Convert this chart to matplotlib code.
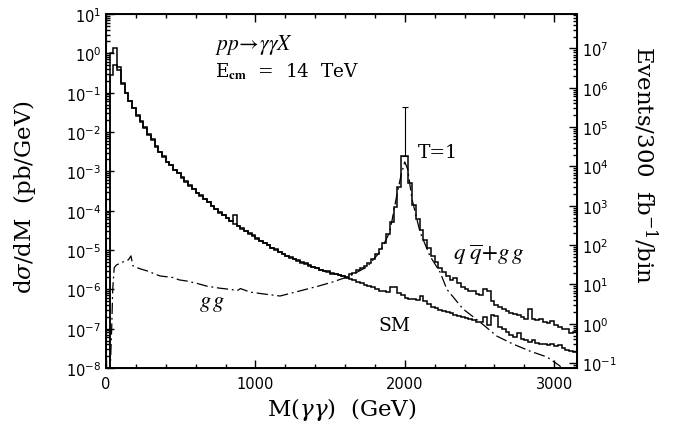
import numpy as np
import matplotlib
matplotlib.use("Agg")
import matplotlib.pyplot as plt
from matplotlib.ticker import LogLocator, FixedLocator, NullFormatter

# ---------------- data ----------------
bin_edges = np.arange(0, 3150 + 25, 25)          # 25 GeV bins, 0 .. 3150 GeV

# log10 of d(sigma)/dM [pb/GeV] per bin, Standard Model
sm_log10 = [
    -12, -0.55, -0.30, -0.42, -0.78, -1.00, -1.20, -1.40, -1.58, -1.73,
    -1.90, -2.05, -2.20, -2.37, -2.50, -2.64, -2.75, -2.85, -2.96, -3.05,
    -3.15, -3.26, -3.36, -3.45, -3.55, -3.62, -3.70, -3.79, -3.87, -3.97,
    -4.04, -4.11, -4.18, -4.26, -4.33, -4.39, -4.45, -4.52, -4.58, -4.64,
    -4.70, -4.77, -4.82, -4.88, -4.95, -4.99, -5.04, -5.10, -5.15, -5.19,
    -5.23, -5.27, -5.31, -5.35, -5.39, -5.43, -5.46, -5.50, -5.53, -5.55,
    -5.58, -5.60, -5.63, -5.66, -5.70, -5.74, -5.77, -5.81, -5.85, -5.89,
    -5.92, -5.95, -6.00, -6.03, -6.05, -6.07, -5.94, -5.93, -6.10, -6.15,
    -6.22, -6.25, -6.24, -6.27, -6.18, -6.30, -6.38, -6.44, -6.47, -6.52,
    -6.55, -6.58, -6.60, -6.64, -6.68, -6.71, -6.72, -6.76, -6.78, -6.82,
    -6.84, -6.70, -6.90, -6.65, -6.68, -6.95, -7.00, -7.08, -7.15, -7.20,
    -7.10, -7.25, -7.30, -7.35, -7.30, -7.36, -7.40, -7.38, -7.42, -7.38,
    -7.45, -7.42, -7.50, -7.55, -7.58, -7.60,
]

# log10 of d(sigma)/dM with T=1 (q qbar + g g)
tot_log10 = [
    -12, 0.00, 0.14, -0.36, -0.75, -1.02, -1.22, -1.38, -1.60, -1.75,
    -1.88, -2.07, -2.18, -2.36, -2.52, -2.62, -2.76, -2.84, -2.97, -3.04,
    -3.16, -3.25, -3.37, -3.44, -3.56, -3.61, -3.71, -3.78, -3.88, -3.96,
    -4.05, -4.10, -4.19, -4.25, -4.12, -4.38, -4.46, -4.51, -4.59, -4.63,
    -4.71, -4.76, -4.83, -4.87, -4.96, -4.98, -5.05, -5.09, -5.16, -5.20,
    -5.24, -5.26, -5.32, -5.34, -5.40, -5.44, -5.45, -5.51, -5.54, -5.54,
    -5.60, -5.61, -5.64, -5.66, -5.68, -5.62, -5.58, -5.52, -5.46, -5.40,
    -5.32, -5.22, -5.10, -4.97, -4.82, -4.60, -4.30, -3.90, -3.40, -2.60,
    -2.60, -3.30, -3.85, -4.20, -4.50, -4.75, -4.95, -5.15, -5.30, -5.45,
    -5.55, -5.65, -5.75, -5.70, -5.85, -5.95, -6.00, -6.05, -6.05, -6.12,
    -6.15, -6.00, -6.05, -6.30, -6.40, -6.46, -6.50, -6.55, -6.60, -6.63,
    -6.66, -6.70, -6.75, -6.50, -6.76, -6.78, -6.76, -6.82, -6.85, -6.80,
    -6.90, -6.95, -7.00, -7.02, -7.10, -7.08,
]

# gg curve (dash-dot): mass [GeV] and log10 d(sigma)/dM
gg_mass = [27, 38, 45, 55, 70, 116, 150, 167, 180, 194, 230, 274, 361, 450,
           490, 542, 610, 676, 760, 830, 880, 900, 964, 1060, 1165, 1298,
           1420, 1520, 1633, 1747, 1834, 1900, 1947, 1975, 2000, 2020, 2048,
           2102, 2168, 2236, 2282, 2390, 2503, 2617, 2724, 2838, 2952, 3039,
           3065]
gg_log10 = [-8.2, -7.0, -6.0, -5.45, -5.38, -5.30, -5.25, -5.15, -5.40, -5.43,
            -5.48, -5.53, -5.66, -5.70, -5.76, -5.79, -5.85, -5.92, -5.97, -6.00,
            -6.03, -5.98, -6.07, -6.12, -6.17, -6.04, -5.92, -5.81, -5.66, -5.43,
            -5.05, -4.54, -3.60, -3.10, -2.76, -2.95, -3.70, -4.54, -5.15, -5.56,
            -6.00, -6.50, -6.83, -7.19, -7.39, -7.57, -7.72, -7.95, -8.2]

peak_mass = 2000
peak_err_top = 0.044

x_ticks = [0, 1000, 2000, 3000]
events_per_pb_per_GeV = 7.5e6   # 300 fb^-1 x 25 GeV bin

# ---------------- figure ----------------
fig = plt.figure(figsize=(6.84, 4.27), dpi=100)
ax = fig.add_axes([106 / 684, 1 - 369 / 427, (577 - 106) / 684, (369 - 15) / 427])

sm = 10.0 ** np.array(sm_log10)
tot = 10.0 ** np.array(tot_log10)
gg = 10.0 ** np.array(gg_log10)

lw = 1.1
ax.stairs(sm, bin_edges, color="black", lw=lw, baseline=None)
ax.stairs(tot, bin_edges, color="black", lw=lw, baseline=None)
ax.plot(gg_mass, gg, color="black", lw=0.9, ls=(0, (9, 3, 1.5, 3)))

peak_val = tot[np.searchsorted(bin_edges, peak_mass) - 1]
ax.errorbar([peak_mass], [peak_val], yerr=[[0], [peak_err_top - peak_val]],
            fmt="none", ecolor="black", elinewidth=0.8, capsize=2.5, capthick=0.8)

ax.set_yscale("log")
ax.set_xlim(0, 3153)
ax.set_ylim(1e-8, 10)

ax.xaxis.set_major_locator(FixedLocator(x_ticks))
ax.xaxis.set_minor_locator(FixedLocator(np.arange(0, 3200, 200)))
ax.yaxis.set_major_locator(LogLocator(base=10, numticks=20))
ax.yaxis.set_minor_locator(LogLocator(base=10, subs=np.arange(2, 10), numticks=20))
ax.yaxis.set_minor_formatter(NullFormatter())

ax.tick_params(which="both", direction="in", top=True, right=False,
               labelsize=10.5, width=1.0)
ax.tick_params(which="major", length=6)
ax.tick_params(which="minor", length=3)
ax.tick_params(axis="x", pad=6)
for sp in ax.spines.values():
    sp.set_linewidth(1.4)

# right axis: events / 300 fb^-1 / bin
ax2 = ax.twinx()
ax2.set_yscale("log")
ax2.set_ylim(1e-8 * events_per_pb_per_GeV, 10 * events_per_pb_per_GeV)
ax2.yaxis.set_major_locator(LogLocator(base=10, numticks=20))
ax2.yaxis.set_minor_locator(LogLocator(base=10, subs=np.arange(2, 10), numticks=20))
ax2.yaxis.set_minor_formatter(NullFormatter())
ax2.tick_params(which="both", direction="in", labelsize=10.5, width=1.0)
ax2.tick_params(which="major", length=6)
ax2.tick_params(which="minor", length=3)

for a in (ax, ax2):
    a.xaxis.offsetText.set_visible(False)
    a.yaxis.offsetText.set_visible(False)

serif = "DejaVu Serif"
lab_size = 16.5
ax.set_ylabel(r"d$\sigma$/dM  (pb/GeV)", family=serif, fontsize=lab_size,
              va="center", ha="center")
ax.yaxis.set_label_coords(-0.172, 0.486)
ax.set_xlabel(r"M($\gamma\gamma$)  (GeV)", family=serif, fontsize=lab_size, labelpad=3)
ax2.set_ylabel(r"Events/300  fb$^{-1}$/bin", family=serif, fontsize=lab_size,
               rotation=-90, va="center", ha="center")
ax2.yaxis.set_label_coords(1.145, 0.576)
for lab in (ax.yaxis.label, ax.xaxis.label, ax2.yaxis.label):
    lab.set_math_fontfamily("dejavuserif")

def txt(x, y, s, size=13, style="normal", ha="left", va="center"):
    t = ax.text(x, y, s, family=serif, fontsize=size, style=style, ha=ha, va=va)
    t.set_math_fontfamily("stix")
    return t

txt(730, 10 ** 0.24, r"$pp\!\rightarrow\!\gamma\gamma X$", size=15.5)
txt(730, 10 ** -0.45, r"E$_{\mathbf{cm}}$  =  14  TeV", size=13.3)
txt(2085, 10 ** -2.5, "T=1", size=13.5)
txt(2560, 10 ** -5.1, r"$q\;\overline{q}\!+\!g\,g$", size=16.5, ha="center")
txt(710, 10 ** -6.32, r"$g\,g$", size=16, ha="center")
txt(1930, 10 ** -6.9, "SM", size=13.5, ha="center")

fig.savefig("out.png", dpi=100)
